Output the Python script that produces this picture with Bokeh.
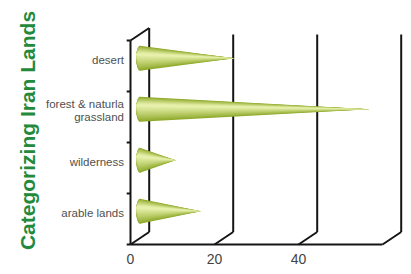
import math
from bokeh.plotting import figure
from bokeh.models import Range1d
from bokeh.core.properties import value
from bokeh.embed import file_html
from bokeh.resources import INLINE

# ---- data ----
categories = ["arable lands", "wilderness", "forest & naturla\ngrassland", "desert"]
values = [14.5, 8.5, 54.7, 22.5]
tick_values = [0, 20, 40]
grid_values = [0, 20, 40, 60]
x_max = 60
title_text = "Categorizing Iran Lands"

# ---- geometry (pixels -> data) ----
W, H = 411, 274
KX = 4.2          # px per x unit
KY = 51.0         # px per category band
X0_IMG, Y0_IMG = 130, 244   # pixel position of data origin (front)
x_lo = -X0_IMG / KX
x_hi = (W - X0_IMG) / KX
y_lo = -(H - Y0_IMG) / KY
y_hi = Y0_IMG / KY

DX = 18.7 / KX    # depth offset in x units
DY = 12.5 / KY    # depth offset in y units
GRID_TOP = 4.12
n = len(categories)

p = figure(width=W, height=H, output_backend="svg", toolbar_location=None,
           x_range=Range1d(x_lo, x_hi), y_range=Range1d(y_lo, y_hi),
           min_border=0, x_axis_location=None, y_axis_location=None)
p.outline_line_color = None
p.grid.visible = False
p.background_fill_color = "white"
p.border_fill_color = "white"

LC = "#151515"
LW = 2

# front left axis
p.segment(x0=[0], y0=[0], x1=[0], y1=[n], line_color=LC, line_width=LW)
# left axis ticks
p.segment(x0=[-3.8 / KX] * (n + 1), y0=list(range(n + 1)), x1=[0] * (n + 1),
          y1=list(range(n + 1)), line_color=LC, line_width=LW)
# top diagonal and back left wall
p.segment(x0=[0], y0=[n], x1=[DX], y1=[n + DY], line_color=LC, line_width=LW)
p.segment(x0=[DX], y0=[DY], x1=[DX], y1=[n + DY], line_color=LC, line_width=LW)
# front baseline
p.segment(x0=[0], y0=[0], x1=[x_max], y1=[0], line_color=LC, line_width=LW)
# diagonals at bottom
p.segment(x0=grid_values, y0=[0] * len(grid_values),
          x1=[g + DX for g in grid_values], y1=[DY] * len(grid_values),
          line_color=LC, line_width=LW)
# back vertical gridlines
gv = grid_values[1:]
p.segment(x0=[g + DX for g in gv], y0=[DY] * len(gv),
          x1=[g + DX for g in gv], y1=[GRID_TOP] * len(gv),
          line_color=LC, line_width=LW)

# ---- cones ----
def lerp_hex(c1, c2, t):
    a = [int(c1[i:i + 2], 16) for i in (1, 3, 5)]
    b = [int(c2[i:i + 2], 16) for i in (1, 3, 5)]
    return "#%02x%02x%02x" % tuple(round(a[k] + (b[k] - a[k]) * t) for k in range(3))

hh = 12.5 / KY           # half height of cone base
ew = 7.5 / KX            # base ellipse width
cx = DX / 2
centers = [i + 0.5 + DY / 2 + 1.5 / KY for i in range(n)]
L = 12
dark, light = "#8ea92a", "#e6f0aa"
for j in range(L):
    t = j / (L - 1)
    f = 1 - 0.88 * t
    off = (1 - f) * 0.35 * hh
    col = lerp_hex(dark, light, t ** 0.85)
    xs, ys = [], []
    for yc, v in zip(centers, values):
        xs.append([cx, cx, cx + v])
        ys.append([yc + off - f * hh, yc + off + f * hh, yc])
    p.patches(xs=xs, ys=ys, fill_color=col, line_color=None)
    p.ellipse(x=[cx - 0.3 * (1 - f)] * n, y=[yc + off for yc in centers],
              width=ew * (0.55 + 0.45 * f), height=2 * f * hh,
              fill_color=col, line_color=None)

# ---- category labels ----
p.text(x=[-6.5 / KX] * n, y=[i + 0.5 + DY / 2 for i in range(n)], text=categories,
       text_align="right", text_baseline="middle", text_font=value("Liberation Sans"),
       text_font_size="11.5px", text_color="#505050", text_line_height=1.1)

# ---- x tick labels ----
p.text(x=tick_values, y=[-14 / KY] * len(tick_values),
       text=[str(t) for t in tick_values], text_align="center", text_baseline="middle",
       text_font=value("Liberation Sans"), text_font_size="14px", text_color="#444444")

# ---- title ----
p.text(x=[(27 - 130) / KX], y=[(244 - 130) / KY], text=[title_text], angle=math.pi / 2,
       text_align="center", text_baseline="middle",
       text_font=value("Liberation Sans"), text_font_style="bold",
       text_font_size="21px", text_color="#238a3c")

open("out.html", "w").write(file_html(p, INLINE))
